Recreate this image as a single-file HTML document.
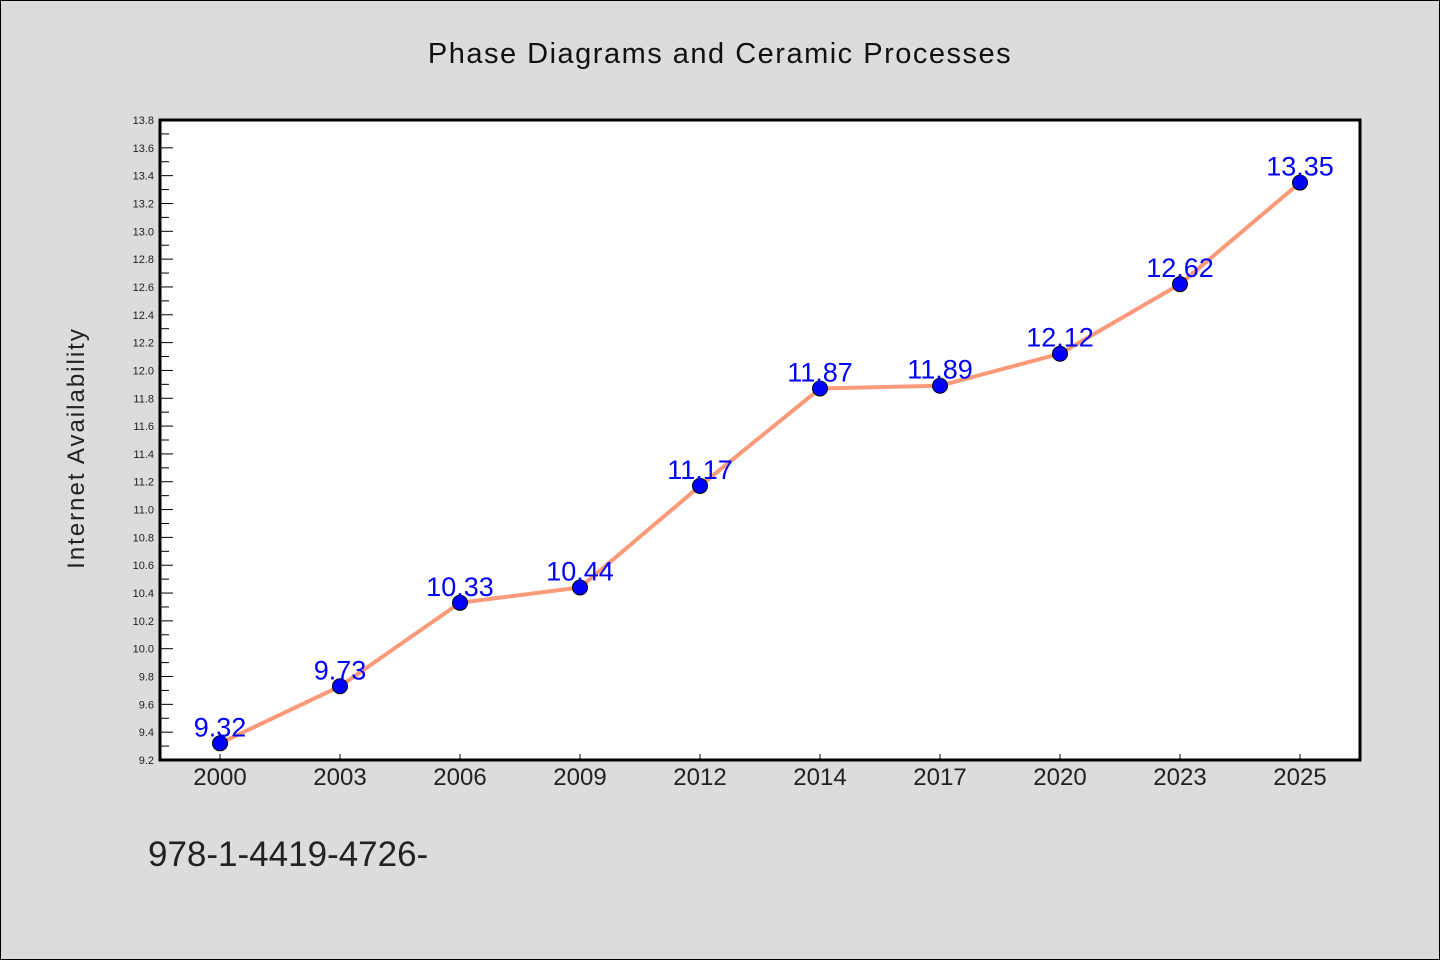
<!DOCTYPE html>
<html><head><meta charset="utf-8"><style>
html,body{margin:0;padding:0;background:#dcdcdc}
svg{display:block}
text{font-family:"WenQuanYi Zen Hei","Liberation Sans",sans-serif}
</style></head><body>
<svg id="chart" width="1440" height="960" viewBox="0 0 1440 960" xmlns="http://www.w3.org/2000/svg">
<rect x="0.5" y="0.5" width="1439" height="959" fill="#dcdcdc" stroke="#000"/>
<text x="720" y="63" font-size="29" text-anchor="middle" fill="#111" letter-spacing="1.5">Phase Diagrams and Ceramic Processes</text>
<rect x="160" y="120" width="1200" height="640" fill="#fff"/>
<g id="yaxis"></g>
<g id="xaxis"></g>
<g id="series"></g>
<rect x="160" y="120" width="1200" height="640" fill="none" stroke="#000" stroke-width="3"/>
<text transform="translate(84,448) rotate(-90)" font-size="24" text-anchor="middle" fill="#222" letter-spacing="2">Internet Availability</text>
<text x="148" y="866" font-size="35" fill="#222">978-1-4419-4726-</text>
</svg>
<script>
const categories=["2000","2003","2006","2009","2012","2014","2017","2020","2023","2025"];
const values=[9.32,9.73,10.33,10.44,11.17,11.87,11.89,12.12,12.62,13.35];
const yTicks=[9.2,9.4,9.6,9.8,10.0,10.2,10.4,10.6,10.8,11.0,11.2,11.4,11.6,11.8,12.0,12.2,12.4,12.6,12.8,13.0,13.2,13.4,13.6,13.8];
const NS="http://www.w3.org/2000/svg";
const L=160,R=1360,T=120,B=760,yMin=9.2,yMax=13.8;
const y=v=>B-(v-yMin)/(yMax-yMin)*(B-T);
const bw=(R-L)/categories.length;
const x=i=>L+bw*(i+0.5);
function mk(tag,attrs,parent){const e=document.createElementNS(NS,tag);for(const k in attrs)e.setAttribute(k,attrs[k]);parent.appendChild(e);return e;}
const ya=document.getElementById('yaxis'),xa=document.getElementById('xaxis'),sg=document.getElementById('series');
yTicks.forEach((t,i)=>{
 const yy=y(t);
 const tk=mk('line',{x1:L,x2:L+13,y1:yy,y2:yy,stroke:'#000','stroke-width':1},ya);
 
 
 if(i<yTicks.length-1){const my=y(t+0.1);
  const mt=mk('line',{x1:L,x2:L+9,y1:my,y2:my,stroke:'#000','stroke-width':1},ya);
  
  }
 const lb=mk('text',{x:L-6,y:yy+4,'font-size':11,'text-anchor':'end',fill:'#222'},ya);
 lb.textContent=t.toFixed(1);
 
 
});
categories.forEach((c,i)=>{
 const tk=mk('line',{x1:x(i),x2:x(i),y1:B,y2:B-6,stroke:'#000','stroke-width':1},xa);
 
 
 const lb=mk('text',{x:x(i),y:785,'font-size':24,'text-anchor':'middle',fill:'#222'},xa);
 lb.textContent=c;
 
 
});
const pl=mk('polyline',{points:values.map((v,i)=>x(i)+','+y(v)).join(' '),fill:'none',stroke:'#fa9a78','stroke-width':4,'stroke-linejoin':'round'},sg);


values.forEach((v,i)=>{
 const c=mk('circle',{cx:x(i),cy:y(v),r:7.5,fill:'#0000ff',stroke:'#000','stroke-width':1},sg);
 
 
});
values.forEach((v,i)=>{
 const t=mk('text',{x:x(i),y:y(v)-7,'font-size':27,'text-anchor':'middle',fill:'#0000ff'},sg);
 t.textContent=v.toFixed(2);
 
 
});
</script>
</body></html>
